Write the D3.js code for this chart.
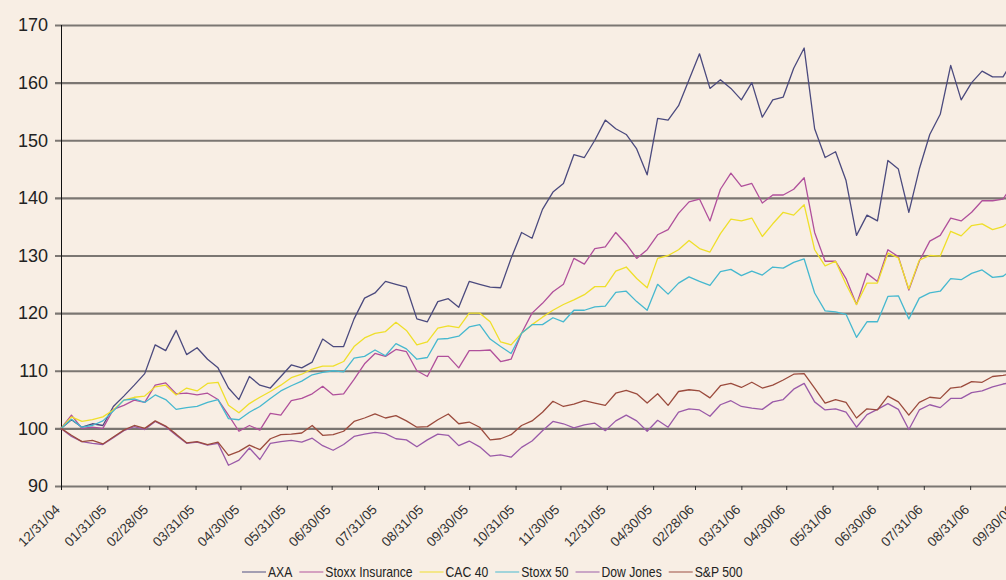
<!DOCTYPE html>
<html>
<head>
<meta charset="utf-8">
<script src="https://cdn.jsdelivr.net/npm/d3@7"></script>
<style>
  html, body { margin: 0; padding: 0; background: #f8eee4; }
  svg { display: block; font-family: "Liberation Sans", Arial, sans-serif; }
</style>
</head>
<body>
<div id="grafico"></div>
<script>
// weekly closes, rebased to 100 on 12/31/04
const startDate = "2004-12-31";

const axa = [100, 101.5, 100.2, 100.8, 100.5, 103.8, 105.6, 107.5, 109.5, 114.5,
  113.5, 117, 112.8, 114, 112, 110.5, 107, 105, 109, 107.5,
  107, 109, 111, 110.5, 111.5, 115.5, 114.2, 114.2, 119, 122.6,
  123.5, 125.5, 125, 124.5, 119, 118.5, 122, 122.5, 121, 125.5,
  125, 124.5, 124.4, 129.5, 134, 133, 138, 141, 142.5, 147.5,
  147, 150, 153.5, 152, 151, 148.5, 144, 153.8, 153.5, 156,
  160.5, 165, 159, 160.5, 159, 157, 160, 154, 157, 157.5,
  162.5, 166, 152, 147, 148, 143, 133.5, 137, 136, 146.5,
  145, 137.5, 145, 151, 154.5, 163, 157, 160, 162, 161,
  161, 164];

const stoxxInsurance = [100, 102.3, 100, 100.2, 100, 103.3, 104, 104.9, 104.5, 107.5,
  107.9, 106, 106.1, 105.8, 106.1, 105, 102.3, 99.5, 100.5, 99.7,
  102.6, 102.3, 104.8, 105.2, 106, 107.3, 105.8, 106, 108.5, 111.2,
  113, 112.5, 113.7, 113.3, 110, 109, 112.5, 112.5, 110.5, 113.5,
  113.5, 113.6, 111.6, 112, 116.5, 120, 121.7, 123.7, 125, 129.5,
  128.5, 131.2, 131.5, 134, 132, 129.5, 131, 133.6, 134.5, 137.3,
  139.3, 139.8, 136, 141.5, 144.3, 142, 142.5, 139.1, 140.5, 140.5,
  141.5, 143.5, 134, 129, 129, 126, 121.5, 126.9, 125.5, 131,
  129.8, 124, 129, 132.5, 133.5, 136.5, 136, 137.5, 139.5, 139.5,
  139.8, 142.5];

const cac40 = [100, 102, 101.2, 101.5, 102, 103.2, 104.9, 105.4, 105.6, 107.2,
  107.5, 105.8, 107, 106.5, 107.8, 108, 104, 102.7, 104.3, 105.4,
  106.4, 107.5, 108.8, 109.4, 110.3, 110.8, 110.8, 111.6, 114.2, 115.7,
  116.5, 116.8, 118.4, 117, 114.5, 115, 117.4, 117.8, 117.5, 120,
  120, 118.5, 115, 114.5, 116.5, 118, 119.3, 120.5, 121.5, 122.3,
  123.2, 124.6, 124.6, 127.3, 128, 126, 124.4, 129.5, 130, 131,
  132.6, 131.2, 130.6, 133.8, 136.3, 136, 136.5, 133.3, 135.5, 137.5,
  137, 138.8, 131, 128.2, 129, 125, 121.5, 125.2, 125.2, 130.4,
  129.6, 124.2, 129.2, 130, 129.9, 134.2, 133.4, 135.2, 135.5, 134.5,
  135, 136.5];

const stoxx50 = [100, 101.6, 100.2, 100.5, 101.3, 103, 104.9, 105.1, 104.5, 105.8,
  105, 103.3, 103.6, 103.8, 104.5, 105, 101.7, 101.5, 102.8, 103.8,
  105.2, 106.5, 107.4, 108.2, 109.3, 109.7, 110, 109.8, 112.2, 112.5,
  113.6, 112.6, 114.7, 113.8, 112, 112.3, 115.5, 115.6, 116, 117.6,
  118, 115.5, 114.2, 113, 116.5, 118, 118, 119.2, 118.5, 120.5,
  120.5, 121.1, 121.2, 123.6, 123.8, 122, 120.5, 125, 123.3, 125.2,
  126.3, 125.5, 124.8, 127.2, 127.6, 126.5, 127.3, 126.6, 128, 127.8,
  128.8, 129.4, 123.5, 120.4, 120.2, 119.8, 115.8, 118.5, 118.5, 122.9,
  123, 119, 122.6, 123.5, 123.8, 126, 125.8, 126.9, 127.5, 126.2,
  126.4, 127.8];

const dowJones = [100, 98.6, 97.7, 97.4, 97.2, 98.4, 99.6, 100.3, 99.8, 101.2,
  100.3, 98.8, 97.4, 97.6, 97.1, 97.4, 93.6, 94.5, 96.6, 94.6,
  97.4, 97.7, 97.9, 97.6, 98.3, 97, 96.2, 97.2, 98.6, 99,
  99.3, 99.1, 98.2, 98, 96.8, 98, 99, 98.8, 97, 97.8,
  96.8, 95.2, 95.4, 95, 96.7, 97.8, 99.6, 101.2, 100.8, 100.1,
  100.6, 100.9, 99.6, 101.3, 102.3, 101.3, 99.5, 101.4, 100.2, 102.8,
  103.4, 103.2, 102.1, 104.1, 104.8, 103.8, 103.5, 103.3, 104.6, 105,
  106.8, 107.8, 104.6, 103.2, 103.4, 102.8, 100.2, 102.4, 103.3, 104.3,
  103.3, 99.8, 103.2, 104.1, 103.6, 105.2, 105.2, 106.2, 106.5, 107.2,
  107.7, 108];

const sp500 = [100, 98.8, 97.7, 97.9, 97.3, 98.5, 99.7, 100.5, 100, 101.3,
  100.4, 99, 97.5, 97.7, 97.2, 97.6, 95.3, 96, 97.1, 96.3,
  98.2, 98.9, 99, 99.2, 100.5, 98.8, 98.9, 99.5, 101.2, 101.8,
  102.5, 101.8, 102.2, 101.3, 100.2, 100.3, 101.5, 102.5, 100.8, 101.1,
  100.2, 98, 98.2, 98.9, 100.5, 101.3, 102.8, 104.7, 103.8, 104.2,
  104.8, 104.4, 104, 106.1, 106.6, 106, 104.4, 106, 104, 106.4,
  106.7, 106.5, 105.3, 107.4, 107.8, 107.1, 108, 107, 107.5, 108.4,
  109.4, 109.5, 107, 104.4, 105, 104.5, 101.8, 103.4, 103.2, 105.6,
  104.6, 102.3, 104.5, 105.4, 105.2, 107, 107.2, 108.1, 108, 109,
  109.2, 109.5];

const seriesNames = ["AXA", "Stoxx Insurance", "CAC 40", "Stoxx 50", "Dow Jones", "S&P 500"];
const seriesValues = [axa, stoxxInsurance, cac40, stoxx50, dowJones, sp500];
const seriesColors = ["#4b4a7e", "#b0509b", "#efdf2a", "#46b8cf", "#9a5aa8", "#9b4b3d"];

const tickDates = ["2004-12-31", "2005-01-31", "2005-02-28", "2005-03-31", "2005-04-30", "2005-05-31",
  "2005-06-30", "2005-07-31", "2005-08-31", "2005-09-30", "2005-10-31", "2005-11-30",
  "2005-12-31", "2006-01-31", "2006-02-28", "2006-03-31", "2006-04-30", "2006-05-31",
  "2006-06-30", "2006-07-31", "2006-08-31", "2006-09-30"];
const tickLabels = ["12/31/04", "01/31/05", "02/28/05", "03/31/05", "04/30/05", "05/31/05",
  "06/30/05", "07/31/05", "08/31/05", "09/30/05", "10/31/05", "11/30/05",
  "12/31/05", "04/30/05", "02/28/06", "03/31/06", "04/30/06", "05/31/06",
  "06/30/06", "07/31/06", "08/31/06", "09/30/06"];
const yTicks = [90, 100, 110, 120, 130, 140, 150, 160, 170];

const width = 1006, height = 580;
const margin = { top: 25, left: 61, bottom: 94 };
const parse = d3.utcParse("%Y-%m-%d");

const dates = axa.map((d, i) => d3.utcDay.offset(parse(startDate), 7 * i));

const x = d3.scaleUtc()
  .domain([parse(tickDates[0]), parse(tickDates[tickDates.length - 1])])
  .range([margin.left, 1015]);

const y = d3.scaleLinear()
  .domain([90, 170])
  .range([height - margin.bottom, margin.top]);

const svg = d3.select("#grafico").append("svg")
  .attr("width", width)
  .attr("height", height);

svg.append("rect")
  .attr("width", width)
  .attr("height", height)
  .attr("fill", "#f8eee4");

// horizontal grid + y labels
const yAxis = svg.append("g")
  .attr("transform", `translate(${margin.left},0)`)
  .call(d3.axisLeft(y).tickValues(yTicks).tickSize(-(1015 - margin.left)).tickPadding(13).tickSizeOuter(0));
yAxis.select(".domain").remove();
yAxis.selectAll(".tick line")
  .attr("x1", -6)
  .attr("stroke", "#7b7672")
  .attr("stroke-width", 2.2);
yAxis.selectAll(".tick text")
  .style("font-size", "18px")
  .style("fill", "#222");

// x ticks and rotated labels
const xAxis = svg.append("g")
  .attr("transform", `translate(0,${y(90)})`)
  .call(d3.axisBottom(x)
    .tickValues(tickDates.map(parse))
    .tickSize(4)
    .tickSizeOuter(0)
    .tickFormat((d, i) => tickLabels[i]));
xAxis.select(".domain").remove();
xAxis.selectAll(".tick line").attr("stroke", "#333");
xAxis.selectAll(".tick text")
  .attr("text-anchor", "end")
  .attr("transform", "translate(-4,21) rotate(-45)")
  .attr("dy", "0.35em")
  .attr("y", 0)
  .attr("x", 0)
  .style("font-size", "13.5px")
  .style("fill", "#333");

// vertical axis line
svg.append("line")
  .attr("x1", margin.left + 0.5)
  .attr("x2", margin.left + 0.5)
  .attr("y1", y(170))
  .attr("y2", y(90) + 4)
  .attr("stroke", "#111")
  .attr("stroke-width", 1);

const line = d3.line()
  .x((d, i) => x(dates[i]))
  .y(d => y(d));

svg.append("g")
  .selectAll("path")
  .data(seriesValues)
  .join("path")
  .attr("d", line)
  .attr("fill", "none")
  .attr("stroke", (d, i) => seriesColors[i])
  .attr("stroke-width", 1.3)
  .attr("stroke-linejoin", "round");

// legend (text squeezed a little, the original font is narrow)
const squeeze = 0.84;
const legend = svg.append("g").attr("transform", "translate(242,572)");
let cx = 0;
seriesNames.forEach((name, i) => {
  const item = legend.append("g").attr("transform", `translate(${cx},0)`);
  item.append("line")
    .attr("x1", 0).attr("x2", 24)
    .attr("stroke", seriesColors[i])
    .attr("stroke-opacity", 0.65)
    .attr("stroke-width", 1.5);
  const t = item.append("g")
    .attr("transform", `translate(26,0) scale(${squeeze},1)`)
    .append("text")
    .attr("dy", "0.35em")
    .text(name)
    .style("font-size", "14.5px")
    .style("fill", "#222");
  cx += 26 + t.node().getComputedTextLength() * squeeze + 7;
});
</script>
</body>
</html>
